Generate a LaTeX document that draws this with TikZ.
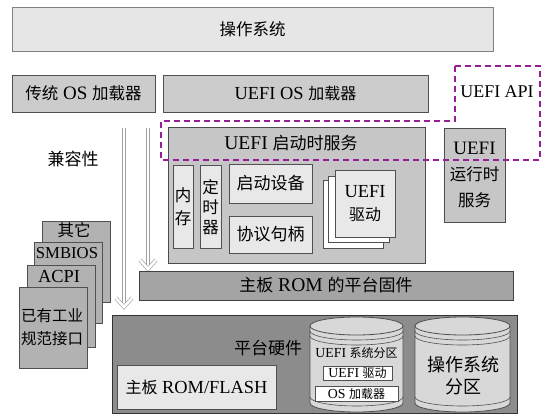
\documentclass[tikz,border=0pt]{standalone}
\usepackage{fontspec}
\setmainfont{Liberation Serif}[Scale=1.15]
\newfontfamily\cjk{Noto Sans CJK SC}
\newcommand\zh[1]{{\cjk #1}}
\newcommand\fsz[2]{\fontsize{#1}{#2}\selectfont}
\usetikzlibrary{arrows.meta,calc}
\definecolor{osfill}{RGB}{230,230,230}
\definecolor{ldrfill}{RGB}{204,204,204}
\definecolor{bsfill}{RGB}{198,198,198}
\definecolor{lite}{RGB}{232,232,232}
\definecolor{fwfill}{RGB}{164,164,164}
\definecolor{hwfill}{RGB}{140,140,140}
\definecolor{pagefill}{RGB}{178,178,178}
\definecolor{cylfill}{RGB}{216,216,216}
\definecolor{edge}{RGB}{80,80,80}
\definecolor{apipurple}{RGB}{150,30,150}
\begin{document}
\begin{tikzpicture}[x=1pt,y=-1pt,
  box/.style={draw=edge, line width=0.8pt, inner sep=0pt, align=center},
  txt/.style={inner sep=0pt, align=center},
  hollow/.style={draw=gray!75, line width=0.6pt, double=white, double distance=2.6pt, line join=miter},
  api/.style={draw=apipurple, line width=1.8pt, dash pattern=on 6pt off 4pt}]
\useasboundingbox (0,0) rectangle (544,415);
\fill[white] (0,0) rectangle (544,415);

% top row
\node[box, draw=gray, fill=osfill, minimum width=481pt, minimum height=44pt, font=\fsz{16.5}{19}] (os) at (252.5,29) {\zh{操作系统}};
\node[box, fill=ldrfill, minimum width=143pt, minimum height=37pt, font=\fsz{16.5}{19}] (legacy) at (83.5,93.5) {\zh{传统} OS \zh{加载器}};
\node[box, fill=ldrfill, minimum width=265pt, minimum height=37pt, font=\fsz{16}{19}] (uefildr) at (295.5,93.5) {UEFI OS \zh{加载器}};
\node[txt, font=\fsz{15.6}{18}] (apilbl) at (497,92) {UEFI API};
\node[txt, font=\fsz{17}{20}] (compat) at (73,159) {\zh{兼容性}};

% hollow arrows
\coordinate (a1s) at (124,128);
\coordinate (a1e) at (124,307);
\coordinate (a2s) at (148,128);
\coordinate (a2e) at (148,269);
\draw[hollow] (a1s) -- (a1e);
\draw[hollow] (a2s) -- (a2e);
\draw[hollow] ($(a1e)+(-8,-9)$) -- (a1e) -- ($(a1e)+(8,-9)$);
\draw[hollow] ($(a2e)+(-8,-9)$) -- (a2e) -- ($(a2e)+(8,-9)$);

% boot services container
\node[box, draw=gray!60!black, fill=bsfill, minimum width=257pt, minimum height=136pt] (bs) at (296.5,195) {};
\node[txt, font=\fsz{17}{20}] (bslbl) at (291,143) {UEFI \zh{启动时服务}};
\node[box, fill=lite, minimum width=20pt, minimum height=83pt, font=\fsz{16.5}{23}] (mem) at (183,206.5) {\zh{内}\\\zh{存}};
\node[box, fill=lite, minimum width=21pt, minimum height=83pt, font=\fsz{16.5}{20}] (timer) at (210.5,207) {\zh{定}\\\zh{时}\\\zh{器}};
\node[box, fill=lite, minimum width=83pt, minimum height=39pt, font=\fsz{17}{20}] (bootdev) at (270.5,183.5) {\zh{启动设备}};
\node[box, fill=lite, minimum width=83pt, minimum height=37pt, font=\fsz{17}{20}] (proto) at (270.5,234.5) {\zh{协议句柄}};
\node[box, fill=white, minimum width=60pt, minimum height=68pt] (drv3) at (353,214) {};
\node[box, fill=white, minimum width=61pt, minimum height=66pt] (drv2) at (358.5,209) {};
\node[box, fill=lite, minimum width=60pt, minimum height=67pt, font=\fsz{16}{23}] (drv1) at (365,203.5) {UEFI\\\zh{驱动}};

% runtime services
\node[box, draw=gray!60!black, fill=bsfill, minimum width=61pt, minimum height=94pt, font=\fsz{16.5}{26}] (rt) at (474.5,175) {UEFI\\\zh{运行时}\\\zh{服务}};

% platform firmware
\node[box, draw=gray!50!black, fill=fwfill, minimum width=374pt, minimum height=29pt, font=\fsz{17}{20}] (fw) at (326,285.5) {\zh{主板} ROM \zh{的平台固件}};

% left stacked pages
\node[box, fill=pagefill, minimum width=68pt, minimum height=81pt] (pg4) at (76,261.5) {};
\node[txt, font=\fsz{16.5}{19}] (pg4l) at (74,230) {\zh{其它}};
\node[box, fill=pagefill, minimum width=68pt, minimum height=81pt] (pg3) at (68,282.5) {};
\node[txt, font=\fsz{14.5}{17}] (pg3l) at (67,253) {SMBIOS};
\node[box, fill=pagefill, minimum width=68pt, minimum height=82pt] (pg2) at (61,306) {};
\node[txt, font=\fsz{16}{18}] (pg2l) at (59,276) {ACPI};
\node[box, fill=pagefill, minimum width=68pt, minimum height=81pt] (pg1) at (53,327.5) {};
\node[txt, font=\fsz{15.5}{23}] (pg1l) at (52,327.5) {\zh{已有工业}\\\zh{规范接口}};

% platform hardware
\node[box, draw=gray!40!black, fill=hwfill, minimum width=405pt, minimum height=98pt] (hw) at (314.5,364) {};
\node[txt, font=\fsz{17}{20}] (hwl) at (268,348) {\zh{平台硬件}};
\node[box, fill=lite, minimum width=159pt, minimum height=44pt, font=\fsz{16}{19}] (rom) at (196.5,387) {\zh{主板} ROM/FLASH};

% cylinder 1 (EFI system partition)
\fill[cylfill] (310,326) -- (310,403) arc[start angle=180,end angle=0,x radius=46.5,y radius=9] -- (403,326) -- cycle;
\draw[edge, line width=0.8pt] (310,326) -- (310,403) arc[start angle=180,end angle=0,x radius=46.5,y radius=9] -- (403,326);
\draw[edge, line width=0.8pt, fill=cylfill] (356.5,326) ellipse [x radius=46.5, y radius=9];
\draw[edge, line width=0.6pt] (310,331) arc[start angle=180,end angle=0,x radius=46.5,y radius=9];
\draw[edge, line width=0.6pt] (310,336) arc[start angle=180,end angle=0,x radius=46.5,y radius=9];
\draw[edge, line width=0.6pt] (310,397) arc[start angle=180,end angle=0,x radius=46.5,y radius=9];
\node[txt, font=\fsz{12}{15}] (espl) at (356.5,353) {UEFI \zh{系统分区}};
\node[box, fill=white, minimum width=69pt, minimum height=14pt, font=\fsz{12}{14}] (espdrv) at (357.5,373) {UEFI \zh{驱动}};
\node[box, fill=white, minimum width=83pt, minimum height=15pt, font=\fsz{12}{14}] (espldr) at (356.5,393.5) {OS \zh{加载器}};

% cylinder 2 (OS partition)
\fill[cylfill] (415,326) -- (415,403) arc[start angle=180,end angle=0,x radius=47.5,y radius=9] -- (510,326) -- cycle;
\draw[edge, line width=0.8pt] (415,326) -- (415,403) arc[start angle=180,end angle=0,x radius=47.5,y radius=9] -- (510,326);
\draw[edge, line width=0.8pt, fill=cylfill] (462.5,326) ellipse [x radius=47.5, y radius=9];
\draw[edge, line width=0.6pt] (415,331) arc[start angle=180,end angle=0,x radius=47.5,y radius=9];
\draw[edge, line width=0.6pt] (415,336) arc[start angle=180,end angle=0,x radius=47.5,y radius=9];
\draw[edge, line width=0.6pt] (415,397) arc[start angle=180,end angle=0,x radius=47.5,y radius=9];
\node[txt, font=\fsz{18}{22}] (osp) at (463,376) {\zh{操作系统}\\\zh{分区}};

% UEFI API dashed outline
\draw[api] (455,66) -- (540,66) -- (540,160) -- (161,160) -- (161,121) -- (455,121) -- cycle;
\end{tikzpicture}
\end{document}
